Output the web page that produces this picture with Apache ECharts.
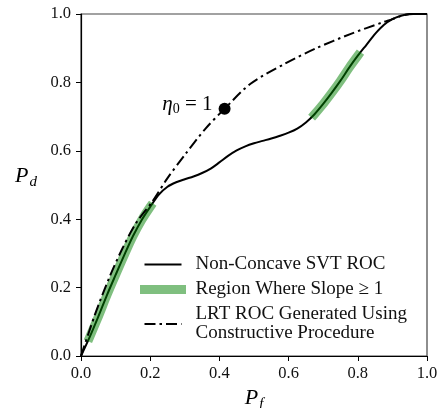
<!DOCTYPE html>
<html>
<head>
<meta charset="utf-8">
<script src="https://cdn.jsdelivr.net/npm/echarts@6/dist/echarts.min.js"></script>
<style>
  html, body { margin: 0; padding: 0; background: #ffffff; }
  #chart { width: 438px; height: 408px; }
</style>
</head>
<body>
<div id="chart"></div>
<script>
// Non-concave SVT ROC curve (P_f, P_d)
const svtPf = [0, 0.025, 0.05, 0.075, 0.1, 0.125, 0.15, 0.175, 0.2, 0.225, 0.25, 0.275, 0.3, 0.325, 0.35, 0.375, 0.4, 0.425, 0.45, 0.475, 0.5, 0.525, 0.55, 0.575, 0.6, 0.625, 0.65, 0.675, 0.7, 0.725, 0.75, 0.775, 0.8, 0.825, 0.85, 0.875, 0.9, 0.925, 0.95, 0.975, 1.0];
const svtPd = [0, 0.055, 0.115, 0.178, 0.237, 0.295, 0.35, 0.397, 0.436, 0.472, 0.495, 0.508, 0.517, 0.525, 0.535, 0.548, 0.566, 0.585, 0.601, 0.613, 0.622, 0.629, 0.636, 0.644, 0.653, 0.665, 0.683, 0.707, 0.737, 0.77, 0.805, 0.843, 0.878, 0.91, 0.942, 0.968, 0.985, 0.995, 1.0, 1.0, 1.0];

// LRT ROC from the constructive procedure
const lrtPf = [0, 0.04, 0.08, 0.12, 0.16, 0.205, 0.25, 0.3, 0.36, 0.415, 0.49, 0.59, 0.68, 0.78, 0.87, 0.9, 0.93, 0.96, 1.0];
const lrtPd = [0, 0.12, 0.225, 0.315, 0.39, 0.45, 0.52, 0.588, 0.665, 0.723, 0.796, 0.855, 0.9, 0.942, 0.975, 0.985, 0.996, 1.0, 1.0];

// P_f intervals of the SVT ROC where the slope is at least 1
const slopeRegions = [[0.025, 0.2], [0.675, 0.8]];

// Operating point for eta_0 = 1
const etaPoint = [0.415, 0.723];

// Axis ticks
const tickValues = [0, 0.2, 0.4, 0.6, 0.8, 1.0];

const seriesNames = [
  'Non-Concave SVT ROC',
  'Region Where Slope \u2265 1',
  'LRT ROC Generated Using\nConstructive Procedure'
];

const serif = '"Liberation Serif", "DejaVu Serif", serif';
const pairs = (xs, ys) => xs.map((x, i) => [x, ys[i]]);
const svt = pairs(svtPf, svtPd);
const lrt = pairs(lrtPf, lrtPd);
const SMOOTH = 0.3;

const slopeSeries = slopeRegions.map(([a, b]) => ({
  name: seriesNames[1],
  type: 'line',
  data: svt.filter(p => p[0] >= a - 1e-9 && p[0] <= b + 1e-9),
  smooth: SMOOTH,
  symbol: 'none',
  lineStyle: { color: 'rgba(0,128,0,0.5)', width: 9, cap: 'square' },
  itemStyle: { color: 'rgba(0,128,0,0.5)' },
  z: 3,
  silent: true
}));

const axisCommon = {
  type: 'value',
  min: tickValues[0],
  max: tickValues[tickValues.length - 1],
  interval: tickValues[1] - tickValues[0],
  splitLine: { show: false },
  axisLine: { show: true, onZero: false, lineStyle: { color: '#000', width: 1.2 } },
  axisTick: { show: true, inside: false, length: 5, lineStyle: { color: '#000', width: 1 } },
  axisLabel: {
    color: '#111',
    fontFamily: serif,
    fontSize: 16.5,
    formatter: v => v.toFixed(1)
  }
};

const nameRich = {
  p: { fontFamily: serif, fontStyle: 'italic', fontSize: 22, color: '#000' },
  s: { fontFamily: serif, fontStyle: 'italic', fontSize: 15, color: '#000', padding: [12, 0, 0, 1] }
};

const chart = echarts.init(document.getElementById('chart'), null, { renderer: 'canvas' });
chart.setOption({
  animation: false,
  backgroundColor: '#ffffff',
  grid: {
    left: 81, right: 11, top: 14, bottom: 52,
    outerBoundsMode: 'none',
    containLabel: false,
    show: true, borderColor: '#444', borderWidth: 1.2, backgroundColor: 'transparent'
  },
  xAxis: Object.assign({}, axisCommon, {
    axisLabel: Object.assign({}, axisCommon.axisLabel, { margin: 9 }),
    name: '{p|P}{s|f}',
    nameLocation: 'middle',
    nameGap: 28,
    nameTextStyle: { rich: nameRich }
  }),
  yAxis: Object.assign({}, axisCommon, {
    axisLabel: Object.assign({}, axisCommon.axisLabel, { margin: 10 }),
    name: '{p|P}{s|d}',
    nameLocation: 'middle',
    nameRotate: 0,
    nameGap: 44,
    nameTextStyle: { padding: [0, 0, 18, 0], rich: nameRich }
  }),
  legend: {
    orient: 'vertical',
    left: 135,
    top: 250,
    itemWidth: 37,
    itemHeight: 10,
    itemGap: 6,
    selectedMode: false,
    data: seriesNames,
    itemStyle: { opacity: 0 },
    lineStyle: { width: 'inherit' },
    textStyle: {
      fontFamily: serif,
      fontSize: 19,
      lineHeight: 19,
      color: '#111',
      padding: [0, 0, 0, 9]
    }
  },
  series: [
    {
      name: seriesNames[0],
      type: 'line',
      data: svt,
      smooth: SMOOTH,
      symbol: 'none',
      lineStyle: { color: '#000', width: 2 },
      itemStyle: { color: '#000' },
      z: 2
    },
    ...slopeSeries,
    {
      name: seriesNames[2],
      type: 'line',
      data: lrt,
      smooth: SMOOTH,
      symbol: 'none',
      lineStyle: { color: '#000', width: 2, type: [11, 4, 2.5, 4] },
      itemStyle: { color: '#000' },
      z: 4
    },
    {
      name: 'eta0',
      type: 'scatter',
      data: [etaPoint],
      symbol: 'circle',
      symbolSize: 12,
      itemStyle: { color: '#000', opacity: 1 },
      z: 5,
      label: {
        show: true,
        position: 'left',
        distance: 6,
        offset: [0, -4],
        formatter: '{e|\u03b7}{s|0}{t| = 1}',
        rich: {
          e: { fontFamily: serif, fontStyle: 'italic', fontSize: 21, color: '#000' },
          s: { fontFamily: serif, fontSize: 14, color: '#000', padding: [10, 0, 0, 0] },
          t: { fontFamily: serif, fontSize: 21, color: '#000' }
        }
      }
    }
  ]
});
</script>
</body>
</html>
